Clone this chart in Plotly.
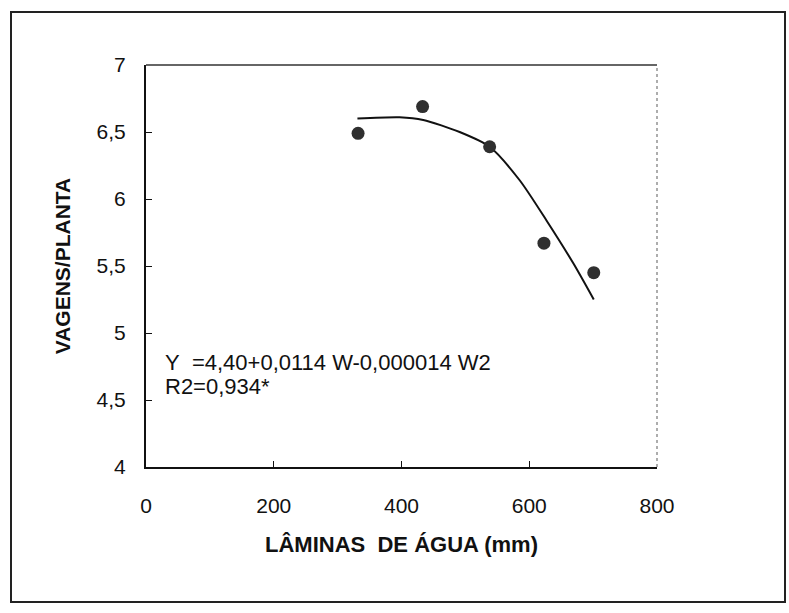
import plotly.graph_objects as go

# Irrigation depth (mm) and pods per plant, observed means
laminas = [332, 433, 538, 623, 701]
vagens = [6.49, 6.69, 6.39, 5.67, 5.45]

# Fitted response curve as drawn
curva_x = [331, 397, 434, 491, 538, 585, 627, 669, 701]
curva_y = [6.60, 6.61, 6.59, 6.50, 6.39, 6.14, 5.84, 5.52, 5.25]

x_ticks = [0, 200, 400, 600, 800]
x_ticktext = ["0", "200", "400", "600", "800"]
y_ticks = [4, 4.5, 5, 5.5, 6, 6.5, 7]
y_ticktext = ["4", "4,5", "5", "5,5", "6", "6,5", "7"]

equacao = "Y\u00a0\u00a0=4,40+0,0114 W-0,000014 W2"
r2 = "R2=0,934*"

FONT = "Liberation Sans, Arial, sans-serif"

fig = go.Figure()

fig.add_trace(go.Scatter(
    x=curva_x, y=curva_y, mode="lines",
    line=dict(color="#111111", width=2, shape="spline", smoothing=0.7),
    showlegend=False, hoverinfo="skip",
))

fig.add_trace(go.Scatter(
    x=laminas, y=vagens, mode="markers",
    marker=dict(color="#2f2f2f", size=13, line=dict(width=0)),
    showlegend=False,
))

fig.update_layout(
    width=789, height=613,
    margin=dict(l=146, r=132, t=65, b=146),
    paper_bgcolor="white", plot_bgcolor="white",
    font=dict(family=FONT, color="#111111", size=21),
    xaxis=dict(
        range=[0, 800], tickvals=x_ticks, ticktext=x_ticktext,
        showgrid=False, zeroline=False,
        showline=True, linecolor="#111111", linewidth=2,
        ticks="inside", ticklen=6, tickcolor="#111111", tickwidth=1,
        ticklabelstandoff=19,
        tickfont=dict(size=21, family=FONT),
        title=dict(text="<b>LÂMINAS\u00a0 DE ÁGUA (mm)</b>",
                   font=dict(size=22, family=FONT), standoff=20),
    ),
    yaxis=dict(
        range=[4, 7], tickvals=y_ticks, ticktext=y_ticktext,
        showgrid=False, zeroline=False,
        showline=True, linecolor="#111111", linewidth=2,
        ticks="inside", ticklen=6, tickcolor="#111111", tickwidth=1,
        ticklabelstandoff=14,
        tickfont=dict(size=21, family=FONT),
        title=dict(text="<b>VAGENS/PLANTA</b>",
                   font=dict(size=21, family=FONT), standoff=20),
    ),
)

# Top and right frame of the plot area
fig.add_shape(type="line", xref="paper", yref="paper", x0=0, y0=1, x1=1, y1=1,
              line=dict(color="#333333", width=1.5))
fig.add_shape(type="line", xref="paper", yref="paper", x0=1, y0=0, x1=1, y1=1,
              line=dict(color="#777777", width=1.2, dash="dot"))

# Outer box around the figure
fig.add_shape(type="rect", xref="paper", yref="paper",
              x0=(11 - 146) / 511, x1=(785 - 146) / 511,
              y0=(467 - 602) / 402, y1=(467 - 12) / 402,
              line=dict(color="#222222", width=2), layer="below")

fig.add_annotation(x=26, y=4.78, xref="x", yref="y", text=equacao,
                   showarrow=False, xanchor="left", yanchor="middle",
                   font=dict(size=22, family=FONT, color="#111111"))
fig.add_annotation(x=26, y=4.60, xref="x", yref="y", text=r2,
                   showarrow=False, xanchor="left", yanchor="middle",
                   font=dict(size=22, family=FONT, color="#111111"))

fig.write_html("out.html")
